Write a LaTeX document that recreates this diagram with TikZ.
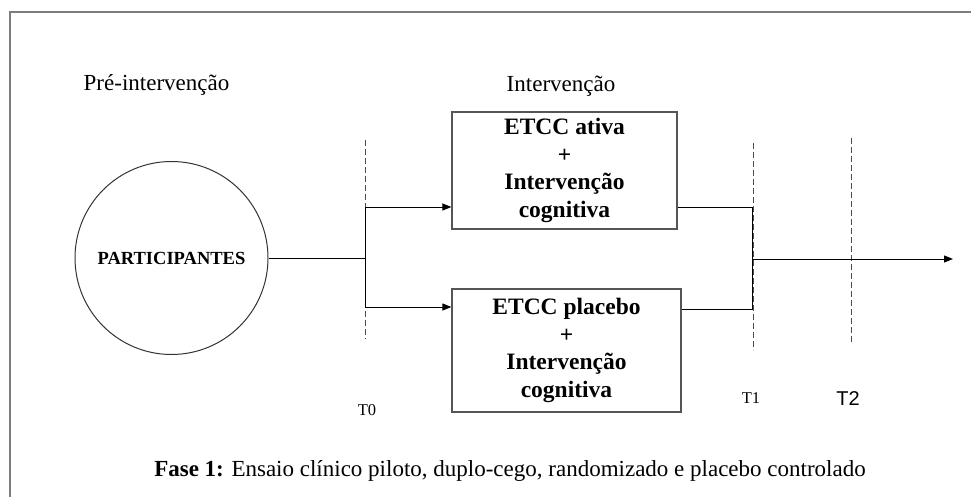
\documentclass[tikz,border=0pt]{standalone}
\usepackage{fontspec}
\setmainfont{Liberation Serif}
\newfontfamily\sansfnt{Liberation Sans}
\usetikzlibrary{arrows.meta}
\definecolor{framegray}{RGB}{125,125,125}
\definecolor{boxgray}{RGB}{85,85,85}
\tikzset{every picture/.style={line width=1pt}}

\begin{document}
\begin{tikzpicture}[x=1pt,y=1pt,yscale=-1,xscale=1,
  armbox/.style={draw=boxgray, line width=1.2pt, align=center, inner sep=0pt, font=\fontsize{23.5}{27.5}\selectfont\bfseries},
  timeline/.style={draw=black!70, dash pattern=on 6pt off 3pt, line width=1pt},
  flowline/.style={draw=black, line width=1pt},
  flowarrow/.style={flowline, -{Triangle[length=9pt,width=7pt]}},
  headtext/.style={anchor=base, inner sep=0pt, font=\fontsize{23}{27}\selectfont}
]
\useasboundingbox (0,0) rectangle (971,497);

%Frame
\draw [framegray, line width=2pt] (10,497) -- (10,12) -- (971,12) ;

%Dashed time lines
\draw [timeline] (365,140) -- (365,339) ;
\draw [timeline] (753,143) -- (753,350) ;
\draw [timeline] (851,138) -- (851,344) ;

%Shape: Circle
\node [draw=black!80, circle, minimum size=193pt, inner sep=0pt, font=\fontsize{18.5}{20}\selectfont\bfseries] (part) at (171.5,258) {PARTICIPANTES};

%Shape: Rectangles
\node [armbox, minimum width=225pt, minimum height=117pt] (active) at (564.5,170.5) {ETCC ativa\\+\\Intervenção\\cognitiva};
\node [armbox, minimum width=229pt, minimum height=123pt] (placebo) at (566.5,350.5) {ETCC placebo\\+\\Intervenção\\cognitiva};

%Branch points
\coordinate (split) at (365,258) ;
\coordinate (splitup) at (365,207) ;
\coordinate (splitdown) at (365,307) ;
\coordinate (joinup) at (752,207) ;
\coordinate (join) at (752,259) ;
\coordinate (joindown) at (752,309) ;
\coordinate (follow) at (953,259) ;

%Straight Lines
\draw [flowline] (part.east |- split) -- (split) ;
\draw [flowline] (splitup) -- (splitdown) ;
\draw [flowarrow] (splitup) -- (splitup -| active.west) ;
\draw [flowarrow] (splitdown) -- (splitdown -| placebo.west) ;
\draw [flowline] (joinup -| active.east) -- (joinup) -- (joindown) -- (joindown -| placebo.east) ;
\draw [flowarrow] (join) -- (follow) ;

% Text Node
\node [headtext] (pre) at (156.5,91) {Pré-intervenção};
% Text Node
\node [headtext] (interv) at (561,92) {Intervenção};
% Text Node
\node [anchor=base, inner sep=0pt, font=\fontsize{16.5}{18}\selectfont] (t0) at (367,415) {T0};
% Text Node
\node [anchor=base, inner sep=0pt, font=\fontsize{16.5}{18}\selectfont] (t1) at (751,403) {T1};
% Text Node
\node [anchor=base, inner sep=0pt, font=\fontsize{20}{22}\sansfnt] (t2) at (848,405) {T2};
% Text Node
\node [headtext] (caption) at (510,476) {\textbf{Fase 1:} Ensaio clínico piloto, duplo-cego, randomizado e placebo controlado};

\end{tikzpicture}
\end{document}
